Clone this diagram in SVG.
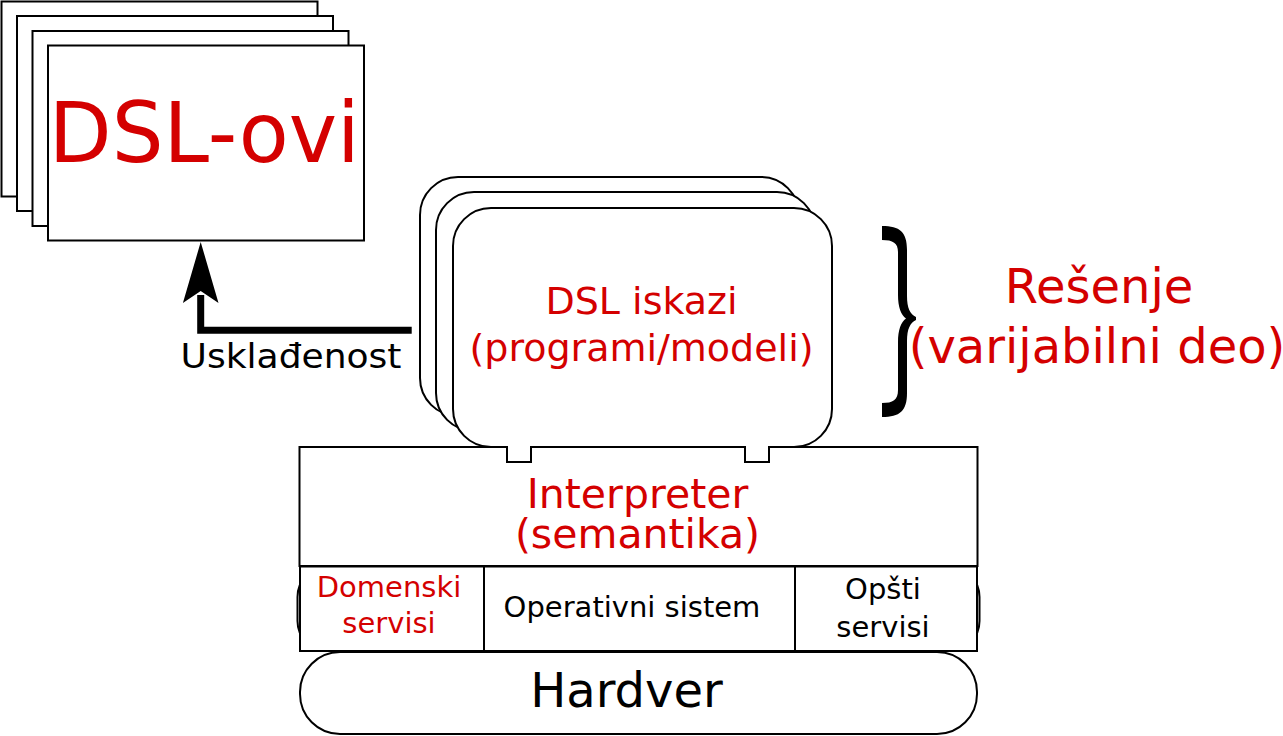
<svg xmlns="http://www.w3.org/2000/svg" width="1283" height="736" viewBox="0 0 1283 736">
<style>
.box{fill:#fff;stroke:#000;stroke-width:2}
.t{font-family:"DejaVu Sans","Liberation Sans",sans-serif}
.red{fill:#d40000}
.blk{fill:#000}
.mid{text-anchor:middle}
</style>
<rect width="1283" height="736" fill="#fff"/>
<g id="dsl-ovi">
<rect class="box" x="1.5" y="1.5" width="316" height="195"/>
<rect class="box" x="17" y="16" width="316" height="195"/>
<rect class="box" x="32.5" y="31" width="316" height="195"/>
<rect class="box" x="48" y="45.5" width="316" height="195"/>
<text class="t red" x="48.8" y="162" font-size="84" textLength="311" lengthAdjust="spacingAndGlyphs">DSL-ovi</text>
</g>
<g id="interpreter">
<rect class="box" x="299.5" y="447" width="678" height="119"/>
<text class="t red mid" x="637.5" y="508" font-size="41">Interpreter</text>
<text class="t red mid" x="637.5" y="548" font-size="41">(semantika)</text>
</g>
<g id="dsl-iskazi">
<rect class="box" x="420" y="177" width="379" height="239" rx="38"/>
<rect class="box" x="436" y="192" width="379" height="239" rx="38"/>
<path class="box" d="M 491 208 H 794 A 38 38 0 0 1 832 246 V 409 A 38 38 0 0 1 794 447 H 769 V 462 H 745 V 447 H 531 V 462 H 507 V 447 H 491 A 38 38 0 0 1 453 409 V 246 A 38 38 0 0 1 491 208 Z"/>
<text class="t red mid" x="641.5" y="314" font-size="38">DSL iskazi</text>
<text class="t red mid" x="641.5" y="361" font-size="38">(programi/modeli)</text>
</g>
<g id="servisi-pozadina">
<rect class="box" x="297.5" y="567" width="682" height="84" rx="30"/>
</g>
<g id="domenski-servisi">
<rect class="box" x="300" y="566.5" width="184" height="84.5"/>
<text class="t red mid" x="389" y="597" font-size="29">Domenski</text>
<text class="t red mid" x="389" y="633" font-size="29">servisi</text>
</g>
<g id="operativni-sistem">
<rect class="box" x="484" y="566.5" width="311" height="84.5"/>
<text class="t blk mid" x="632" y="617" font-size="29">Operativni sistem</text>
</g>
<g id="opsti-servisi">
<rect class="box" x="795" y="566.5" width="182" height="84.5"/>
<text class="t blk mid" x="883" y="599" font-size="29">Opšti</text>
<text class="t blk mid" x="883" y="637" font-size="29">servisi</text>
</g>
<g id="hardver">
<rect class="box" x="300" y="652" width="677" height="82" rx="40"/>
<text class="t blk mid" x="626.5" y="707" font-size="48">Hardver</text>
</g>
<g id="resenje">
<path fill="#000" d="M 882 226 C 900 226 907 232 907 250 L 907 296 C 907 308 910 314 916 317 L 916 320 C 910 323 907 329 907 341 L 907 393 C 907 411 900 417 882 417 L 882 403 C 893 403 898 400 898 390 L 898 342 C 898 330 901 322 906 318.5 C 901 315 898 307 898 295 L 898 252 C 898 243 893 240 882 240 Z"/>
<text class="t red mid" x="1099" y="303" font-size="48">Rešenje</text>
<text class="t red mid" x="1097" y="363" font-size="48">(varijabilni deo)</text>
</g>
<g id="connectors">
<path d="M 411.7 330.3 H 200.7 V 295" fill="none" stroke="#000" stroke-width="7"/>
<polygon points="200.7,242 218.5,303 200.7,291 182.9,303" fill="#000"/>
<text class="t blk" x="180.5" y="368" font-size="34" textLength="221" lengthAdjust="spacingAndGlyphs">Usklađenost</text>
</g>
</svg>
